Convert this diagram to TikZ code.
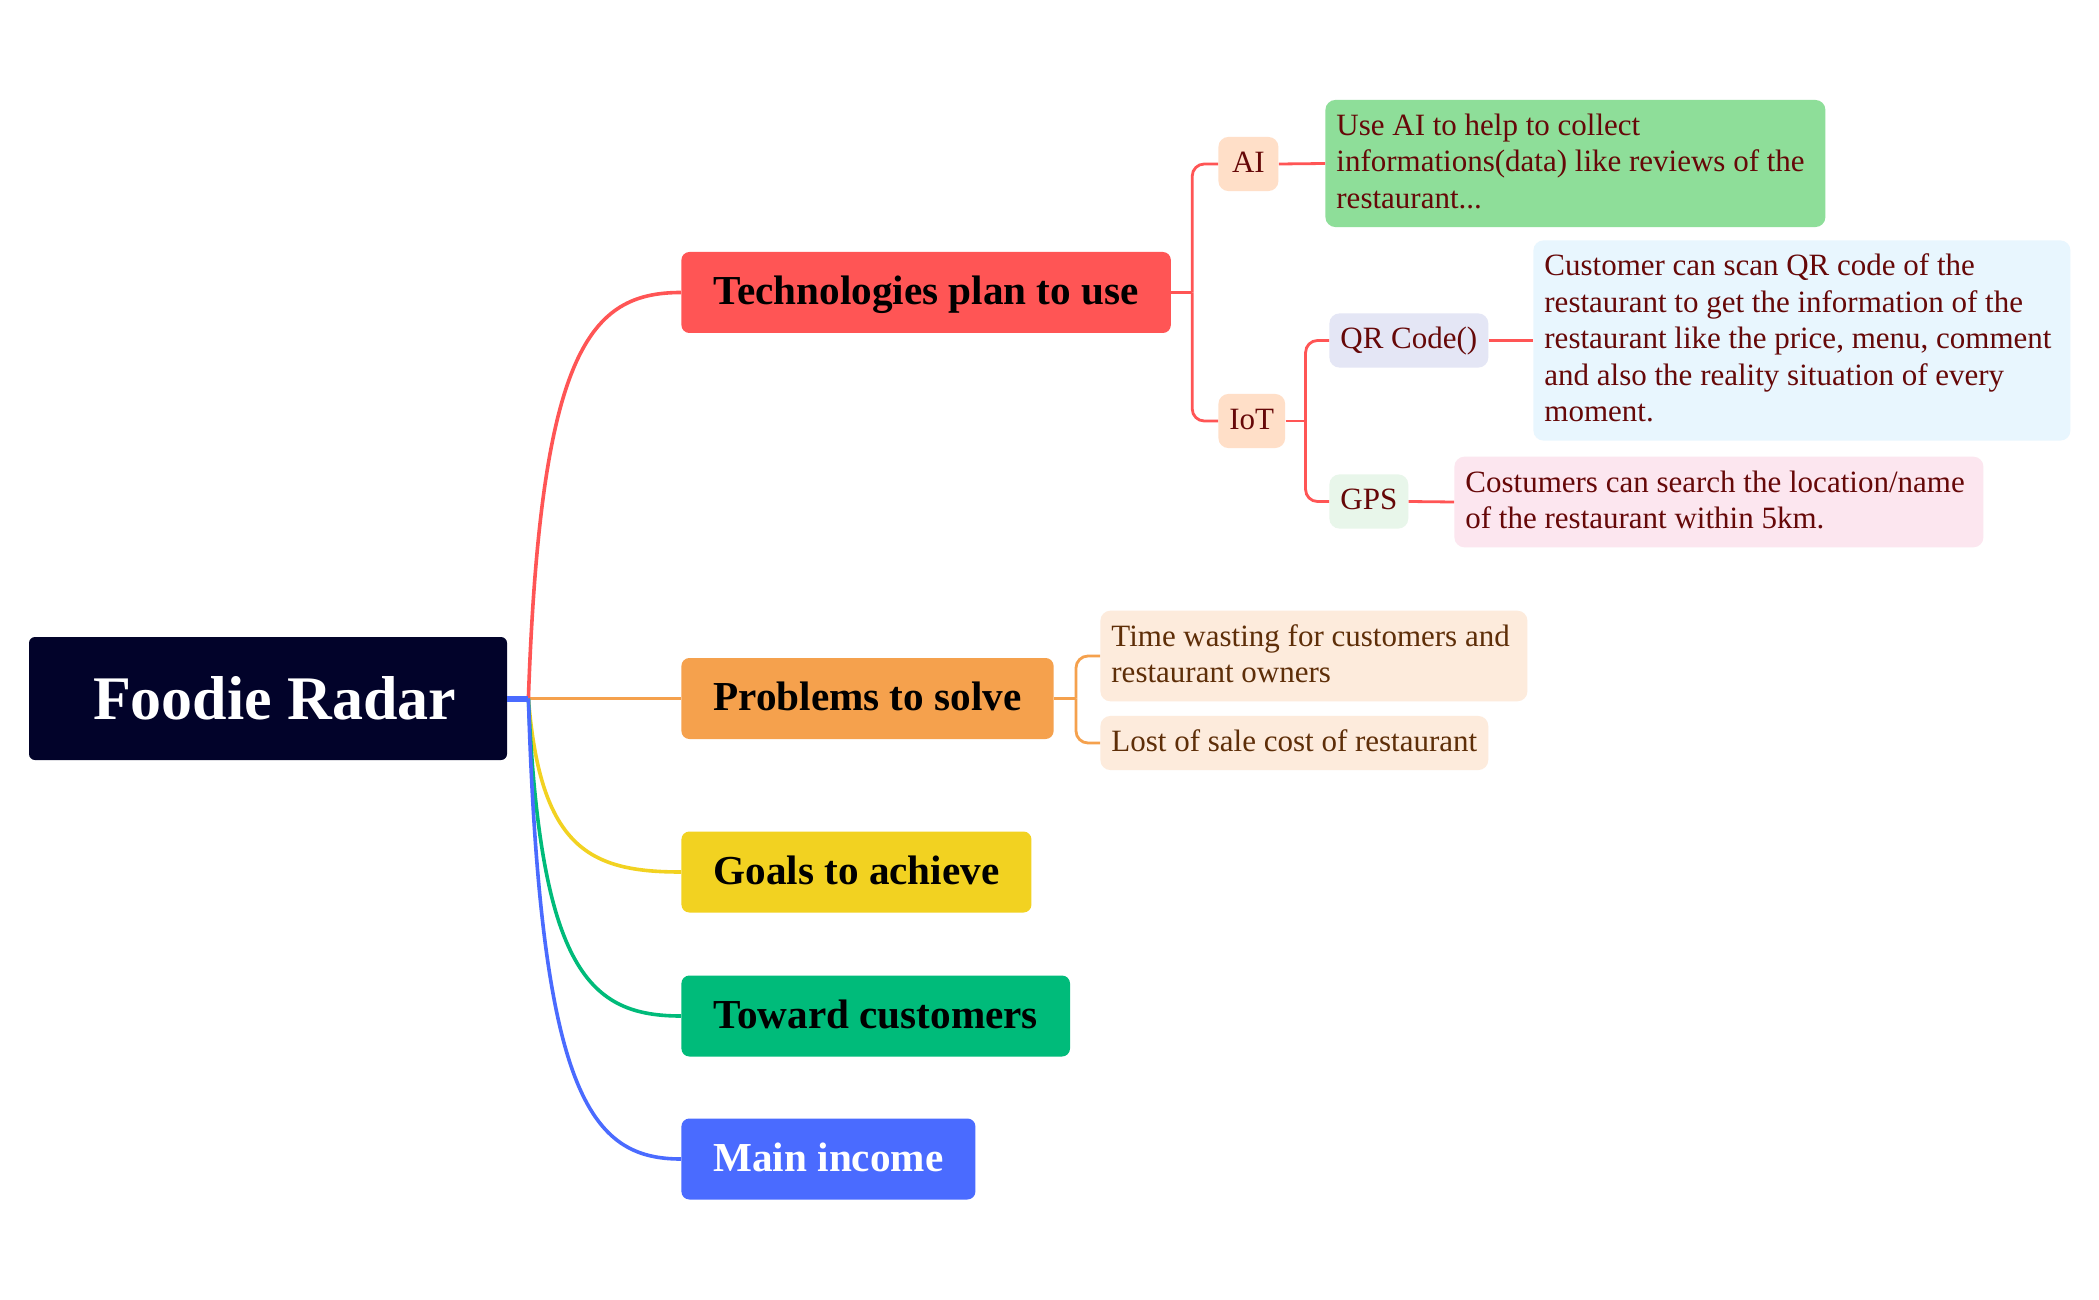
\documentclass[tikz,border=0pt]{standalone}
\usepackage{fontspec}
\setmainfont{Liberation Serif}
\usetikzlibrary{calc}
\definecolor{rootc}{HTML}{02032A}
\definecolor{redc}{HTML}{FF5555}
\definecolor{orangec}{HTML}{F5A14D}
\definecolor{yellowc}{HTML}{F2D221}
\definecolor{greenc}{HTML}{00BB7A}
\definecolor{bluec}{HTML}{4A6BFF}
\definecolor{peach}{HTML}{FFDFC8}
\definecolor{aitextc}{HTML}{8EDE99}
\definecolor{qrfill}{HTML}{E4E6F5}
\definecolor{gpsfill}{HTML}{E8F6EA}
\definecolor{qrtextc}{HTML}{E8F6FE}
\definecolor{gpstextc}{HTML}{FCE6EF}
\definecolor{probfill}{HTML}{FDEBDC}
\definecolor{maroonc}{HTML}{660808}
\definecolor{brownc}{HTML}{5E2E08}
\newcommand\linestrut{\rule[-4.95pt]{0pt}{18.25pt}}
\newcommand\txline[1]{\mbox{\linestrut#1}}
\begin{document}
\begin{tikzpicture}[x=0.5pt,y=-0.5pt,
  rootbox/.style={fill=rootc, rounded corners=3pt, text=white,
    font=\fontsize{31}{37}\selectfont\bfseries,
    minimum width=239pt, minimum height=61.5pt, inner sep=0pt},
  mainbox/.style={rounded corners=4pt, font=\fontsize{20.6}{24}\selectfont\bfseries,
    minimum height=40.5pt, inner xsep=16pt, inner ysep=0pt, anchor=west,
    text height=15pt, text depth=3pt},
  subbox/.style={rounded corners=5pt, font=\fontsize{15.5}{18.25}\selectfont,
    inner xsep=5.5pt, inner ysep=4.4pt, anchor=west, align=flush left},
  redtxt/.style={subbox, text=maroonc},
  browntxt/.style={subbox, text=brownc, fill=probfill},
  mainline/.style={line width=1.8pt},
  subline/.style={line width=1.4pt, rounded corners=6pt}
]
\path[use as bounding box, fill=white] (0,0) rectangle (2099,1300);

% root and main branches
\node[rootbox] (root) at (268,698.5) {\hspace{6.7pt}Foodie Radar};
\node[mainbox, fill=redc] (tech) at (681,292.5) {Technologies plan to use};
\node[mainbox, fill=orangec] (prob) at (681,698.5) {Problems to solve};
\node[mainbox, fill=yellowc] (goals) at (681,872) {Goals to achieve};
\node[mainbox, fill=greenc] (toward) at (681,1016) {Toward customers};
\node[mainbox, fill=bluec, text=white] (income) at (681,1159) {Main income};

% technology sub nodes
\node[redtxt, fill=peach, minimum width=30pt, align=center] (ai) at (1218,164) {\txline{AI}};
\node[redtxt, fill=peach] (iot) at (1218,421) {\txline{IoT}};
\node[redtxt, fill=qrfill] (qr) at (1329,340.5) {\txline{QR Code()}};
\node[redtxt, fill=gpsfill] (gps) at (1329,501.5) {\txline{GPS}};
\node[redtxt, fill=aitextc, text width=239pt] (aitext) at (1325,163.5)
  {\txline{Use AI to help to collect}\\\txline{informations(data) like reviews of the}\\\txline{restaurant...}};
\node[redtxt, fill=qrtextc, text width=257.5pt] (qrtext) at (1533,340.5)
  {\txline{Customer can scan QR code of the}\\\txline{restaurant to get the information of the}\\\txline{restaurant like the price, menu, comment}\\\txline{and also the reality situation of every}\\\txline{moment.}};
\node[redtxt, fill=gpstextc, text width=253.5pt] (gpstext) at (1454,502)
  {\txline{Costumers can search the location/name}\\\txline{of the restaurant within 5km.}};

% problem sub nodes
\node[browntxt, text width=202.5pt] (p1) at (1100,656)
  {\txline{Time wasting for customers and}\\\txline{restaurant owners}};
\node[browntxt] (p2) at (1100,743) {\txline{Lost of sale cost of restaurant}};

% trunk connectors
\coordinate (trunk) at ($(root.east)+(21,0)$);
\draw[mainline, orangec] (root.east) -- (prob.west);
\draw[mainline, redc] (trunk) .. controls +(12,-349) and +(-91,0) .. (tech.west);
\draw[mainline, yellowc] (trunk) .. controls +(12,150) and +(-91,0) .. (goals.west);
\draw[mainline, greenc] (trunk) .. controls +(12,273) and +(-91,0) .. (toward.west);
\draw[mainline, bluec] (trunk) .. controls +(12,396) and +(-91,0) .. (income.west);
\draw[line width=3pt, bluec] (root.east) -- (trunk);

% technology brackets
\coordinate (tj) at ($(tech.east)+(21,0)$);
\draw[subline, redc] (tech.east) -- (tj);
\draw[subline, redc] (tj) |- (ai.west);
\draw[subline, redc] (tj) |- (iot.west);
\coordinate (ij) at ($(iot.east)+(20,0)$);
\draw[subline, redc] (iot.east) -- (ij);
\draw[subline, redc] (ij) |- (qr.west);
\draw[subline, redc] (ij) |- (gps.west);
\draw[subline, redc] (ai.east) -- (aitext.west);
\draw[subline, redc] (qr.east) -- (qrtext.west);
\draw[subline, redc] (gps.east) -- (gpstext.west);

% problem brackets
\coordinate (pj) at ($(prob.east)+(22,0)$);
\draw[subline, orangec] (prob.east) -- (pj);
\draw[subline, orangec] (pj) |- (p1.west);
\draw[subline, orangec] (pj) |- (p2.west);
\end{tikzpicture}
\end{document}
